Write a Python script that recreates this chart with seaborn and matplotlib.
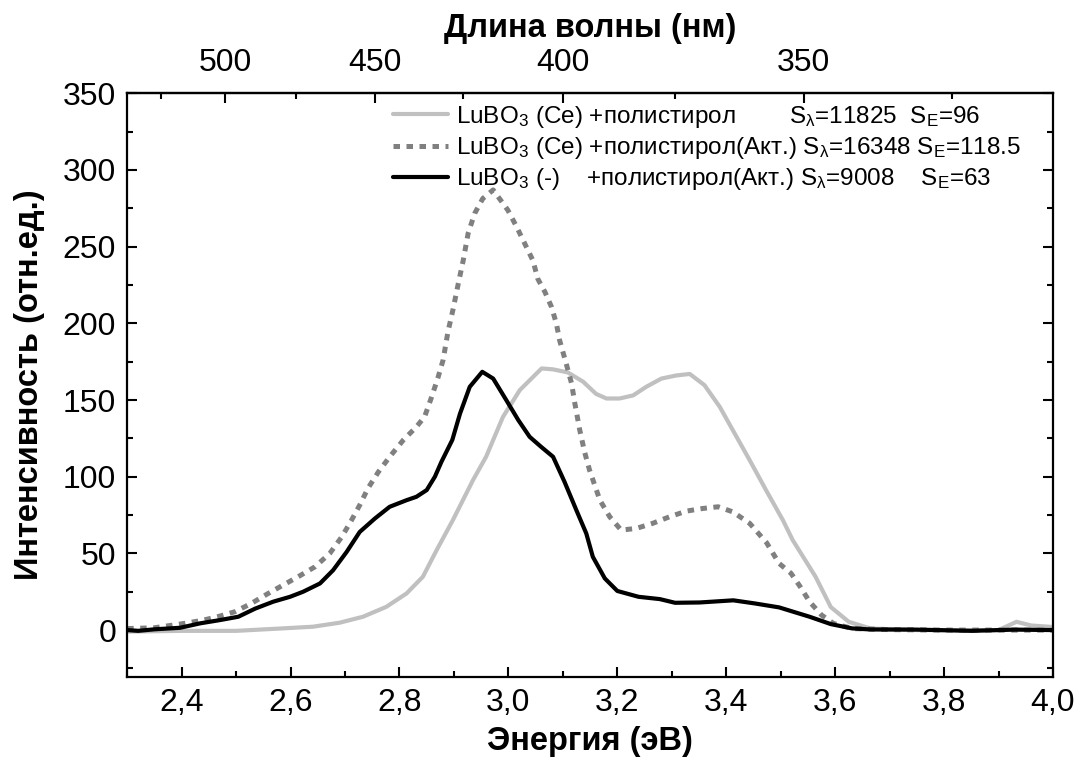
import numpy as np
import pandas as pd
import matplotlib
matplotlib.use("Agg")
import matplotlib.pyplot as plt
import seaborn as sns
from matplotlib.ticker import MultipleLocator, FuncFormatter, FixedLocator

# ---------------- data ----------------
energy_ce = [2.300, 2.400, 2.500, 2.580, 2.641, 2.690, 2.733, 2.776, 2.813, 2.843,
             2.868, 2.898, 2.935, 2.959, 2.990, 3.021, 3.061, 3.082, 3.109, 3.137,
             3.161, 3.180, 3.204, 3.229, 3.253, 3.281, 3.308, 3.333, 3.360, 3.388,
             3.412, 3.443, 3.473, 3.504, 3.522, 3.564, 3.592, 3.625, 3.665, 3.750,
             3.850, 3.900, 3.933, 3.960, 4.000]
intensity_ce = [-1.0, -0.5, -0.5, 1.0, 2.2, 4.8, 8.7, 15.2, 23.9, 34.8,
                52.0, 71.7, 97.8, 113.0, 139.0, 156.5, 170.6, 170.0, 168.0, 162.0,
                154.0, 151.0, 151.0, 153.0, 158.6, 164.0, 166.0, 167.0, 159.7, 145.6,
                130.4, 110.8, 91.3, 71.7, 58.7, 34.8, 15.0, 5.4, 1.0, 0.0,
                0.0, 0.0, 5.4, 3.0, 2.0]

energy_ce_act = [2.300, 2.350, 2.406, 2.440, 2.470, 2.498, 2.528, 2.557, 2.586, 2.614,
                 2.645, 2.672, 2.694, 2.712, 2.727, 2.742, 2.761, 2.782, 2.807, 2.831,
                 2.846, 2.859, 2.871, 2.880, 2.889, 2.898, 2.908, 2.917, 2.926, 2.938,
                 2.953, 2.972, 2.999, 3.015, 3.030, 3.045, 3.054, 3.067, 3.079, 3.088,
                 3.094, 3.106, 3.116, 3.122, 3.131, 3.140, 3.149, 3.168, 3.186, 3.207,
                 3.235, 3.265, 3.296, 3.327, 3.357, 3.385, 3.412, 3.443, 3.474, 3.497,
                 3.519, 3.536, 3.553, 3.575, 3.597, 3.632, 3.700, 3.800, 3.900, 4.000]
intensity_ce_act = [1.0, 1.5, 4.4, 6.5, 9.1, 12.0, 17.4, 23.5, 29.3, 34.8,
                    41.3, 50.0, 60.8, 71.7, 81.5, 92.4, 103.0, 113.0, 123.9, 132.5,
                    139.0, 152.0, 165.0, 176.0, 194.5, 208.6, 226.0, 241.0, 258.6, 271.6,
                    281.4, 287.0, 273.8, 263.0, 252.0, 241.0, 229.0, 220.5, 210.8, 200.0,
                    189.0, 173.9, 160.8, 147.8, 130.4, 116.0, 104.3, 84.7, 73.9, 65.2,
                    66.3, 69.6, 73.9, 77.6, 79.3, 80.4, 77.1, 69.6, 57.0, 43.5,
                    37.0, 28.2, 18.5, 9.8, 4.3, 1.0, 0.3, 0.0, 0.0, 0.0]

energy_pure = [2.300, 2.320, 2.350, 2.397, 2.434, 2.470, 2.504, 2.535, 2.568, 2.599,
               2.623, 2.654, 2.678, 2.703, 2.727, 2.755, 2.782, 2.813, 2.831, 2.850,
               2.865, 2.877, 2.897, 2.911, 2.929, 2.952, 2.972, 2.996, 3.018, 3.039,
               3.060, 3.082, 3.103, 3.125, 3.143, 3.155, 3.177, 3.200, 3.239, 3.278,
               3.306, 3.351, 3.413, 3.452, 3.497, 3.553, 3.592, 3.631, 3.665, 3.750,
               3.850, 3.930, 4.000]
intensity_pure = [0.0, -0.5, 0.5, 1.5, 4.4, 6.5, 8.7, 14.0, 18.5, 21.7,
                  25.0, 30.4, 39.0, 51.0, 64.0, 72.8, 80.4, 84.7, 86.9, 91.3,
                  100.0, 109.7, 124.0, 141.0, 158.6, 168.4, 164.0, 150.0, 137.0, 126.0,
                  119.5, 113.0, 96.7, 78.0, 63.0, 47.8, 33.7, 25.5, 21.7, 20.2,
                  17.8, 18.0, 19.4, 17.4, 14.8, 8.7, 3.9, 1.1, 0.4, 0.3,
                  -0.5, 0.3, 0.0]

labels = [
    r"LuBO$_\mathregular{3}$ (Ce) +полистирол        S$_\mathregular{λ}$=11825  S$_\mathregular{E}$=96",
    r"LuBO$_\mathregular{3}$ (Ce) +полистирол(Акт.) S$_\mathregular{λ}$=16348 S$_\mathregular{E}$=118.5",
    r"LuBO$_\mathregular{3}$ (-)    +полистирол(Акт.) S$_\mathregular{λ}$=9008    S$_\mathregular{E}$=63",
]
x_ticks = [2.4, 2.6, 2.8, 3.0, 3.2, 3.4, 3.6, 3.8, 4.0]
y_ticks = [0, 50, 100, 150, 200, 250, 300, 350]
wl_ticks = [500, 450, 400, 350]
wl_minor = [525, 475, 425, 375, 325]

# ---------------- style ----------------
sns.set_theme(style="ticks")
plt.rcParams["font.family"] = ["Liberation Sans", "DejaVu Sans"]
plt.rcParams["mathtext.fontset"] = "custom"
plt.rcParams["mathtext.rm"] = "Liberation Sans"
plt.rcParams["mathtext.it"] = "Liberation Sans:italic"
plt.rcParams["mathtext.bf"] = "Liberation Sans:bold"
plt.rcParams["text.color"] = "black"
plt.rcParams["axes.labelcolor"] = "black"
plt.rcParams["xtick.color"] = "black"
plt.rcParams["ytick.color"] = "black"

fig = plt.figure(figsize=(10.78, 7.71), dpi=100)
ax = fig.add_axes([0.118, 0.1219, 0.8588, 0.7571])

df_ce = pd.DataFrame({"E": energy_ce, "I": intensity_ce})
df_act = pd.DataFrame({"E": energy_ce_act, "I": intensity_ce_act})
df_pure = pd.DataFrame({"E": energy_pure, "I": intensity_pure})

widths = [3.0, 3.6, 3.0]
sns.lineplot(data=df_ce, x="E", y="I", ax=ax, color="#c0c0c0",
             estimator=None, sort=False, label=labels[0])
sns.lineplot(data=df_act, x="E", y="I", ax=ax, color="#808080",
             estimator=None, sort=False, label=labels[1])
sns.lineplot(data=df_pure, x="E", y="I", ax=ax, color="black",
             estimator=None, sort=False, label=labels[2])
for ln, w in zip(ax.lines[:3], widths):
    ln.set_linewidth(w)
    ln.set_solid_joinstyle("round")
ax.lines[1].set_dashes([1.3, 1.3])
ax.lines[1].set_dash_capstyle("butt")

ax.set_xlim(2.3, 4.0)
ax.set_ylim(-30.6, 350)

ax.xaxis.set_major_locator(FixedLocator(x_ticks))
ax.xaxis.set_minor_locator(MultipleLocator(0.1))
ax.xaxis.set_major_formatter(FuncFormatter(lambda v, p: f"{v:.1f}".replace(".", ",")))
ax.yaxis.set_major_locator(FixedLocator(y_ticks))
ax.yaxis.set_minor_locator(MultipleLocator(25))

ax.tick_params(axis="both", which="both", direction="in", top=False, right=True,
               width=1.5, labelsize=23, color="black", labelcolor="black")
ax.tick_params(axis="both", which="major", length=7, pad=8)
ax.tick_params(axis="both", which="minor", length=4)
for s in ax.spines.values():
    s.set_visible(True)
    s.set_linewidth(1.6)
    s.set_color("black")

ax.set_xlabel("Энергия (эВ)", fontsize=23.5, fontweight="bold", labelpad=6)
ax.set_ylabel("Интенсивность (отн.ед.)", fontsize=23.5, fontweight="bold", labelpad=13)

secax = ax.secondary_xaxis("top", functions=(lambda e: 1239.84 / np.clip(e, 1e-6, None),
                                             lambda w: 1239.84 / np.clip(w, 1e-6, None)))
secax.xaxis.set_major_locator(FixedLocator(wl_ticks))
secax.xaxis.set_minor_locator(FixedLocator(wl_minor))
secax.xaxis.set_major_formatter(FuncFormatter(lambda v, p: f"{v:.0f}"))
secax.tick_params(axis="x", which="both", direction="in", width=1.5, labelsize=23,
                  color="black", labelcolor="black")
secax.tick_params(axis="x", which="major", length=7, pad=11)
secax.tick_params(axis="x", which="minor", length=4)
secax.spines["top"].set_linewidth(1.6)
secax.spines["top"].set_color("black")
secax.set_xlabel("Длина волны (нм)", fontsize=23.5, fontweight="bold", labelpad=8)

leg = ax.legend(loc="upper left", bbox_to_anchor=(0.287, 0.982), frameon=False,
                fontsize=17.5, handlelength=2.25, handletextpad=0.35,
                labelspacing=0.22, borderpad=0.0, borderaxespad=0.0)
for h, w in zip(leg.get_lines(), widths):
    h.set_linewidth(w)

fig.savefig("out.png", dpi=100)
